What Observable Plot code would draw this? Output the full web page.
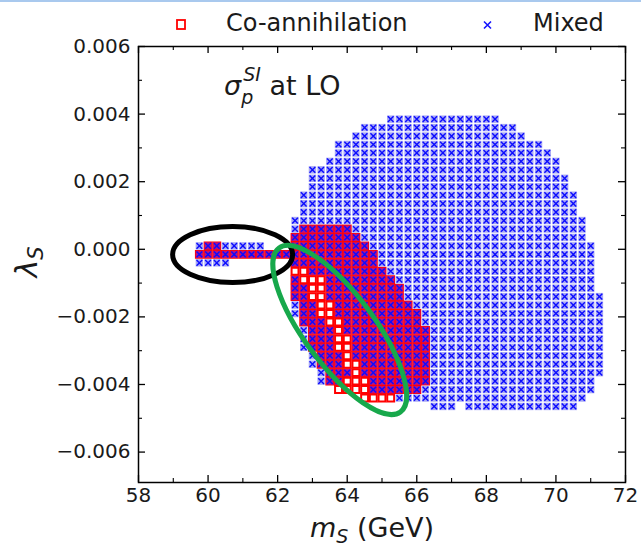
<!DOCTYPE html>
<html><head><meta charset="utf-8">
<script src="https://cdn.jsdelivr.net/npm/d3@7"></script>
<script src="https://cdn.jsdelivr.net/npm/@observablehq/plot@0.6"></script>
<style>
html,body{margin:0;padding:0;background:#fff;}
body{width:641px;height:546px;position:relative;overflow:hidden;font-family:"DejaVu Sans",sans-serif;}
#topline{position:absolute;left:0;top:0;width:641px;height:2px;background:#a9c9ee;z-index:3;}
#legend{position:absolute;left:0;top:0;width:641px;height:36px;z-index:2;}
#chart{position:absolute;left:0;top:20px;}
#legend svg,#chart svg{display:block;overflow:visible;}
</style></head><body>
<div id="topline"></div>
<div id="legend"></div>
<div id="chart"></div>
<script>
// ---- data ----
const massStep = 0.25; // GeV, scan step in m_S
const lambdaS = [0.00385, 0.0036, 0.00335, 0.0031, 0.00285, 0.0026, 0.00235, 0.0021, 0.00185, 0.0016,
  0.00135, 0.0011, 0.00085, 0.0006, 0.00035, 0.0001, -0.00015, -0.0004, -0.00065, -0.0009,
  -0.00115, -0.0014, -0.00165, -0.0019, -0.00215, -0.0024, -0.00265, -0.0029, -0.00315, -0.0034,
  -0.00365, -0.0039, -0.00415, -0.0044, -0.00465];
// m_S runs [from, to] (GeV) of "Mixed" scan points, one entry per lambdaS row
const mixedRuns = [
  [[65.25, 68.25]], [[64.5, 68.75]], [[64.25, 69.0]], [[63.75, 69.5]], [[63.75, 69.75]],
  [[63.5, 70.0]], [[63.0, 70.0]], [[63.0, 70.25]], [[63.0, 70.25]], [[62.75, 70.5]],
  [[62.75, 70.5]], [[62.75, 70.5]], [[62.5, 70.75]], [[62.5, 70.75]], [[62.5, 70.75]],
  [[59.75, 61.5], [62.5, 71.0]], [[59.75, 71.0]], [[59.75, 60.5], [62.5, 71.0]], [[63.0, 71.0]], [[62.5, 62.5], [63.5, 71.0]],
  [[62.5, 62.75], [63.5, 71.0]], [[62.5, 62.75], [63.5, 71.25]], [[62.5, 63.0], [63.75, 71.25]], [[62.5, 63.0], [63.75, 71.25]], [[62.75, 63.25], [64.0, 71.25]],
  [[62.75, 63.5], [64.0, 71.25]], [[62.75, 63.5], [64.25, 71.25]], [[62.75, 63.5], [64.25, 71.25]], [[63.0, 63.75], [64.25, 71.25]], [[63.0, 63.75], [64.5, 71.25]],
  [[63.25, 64.0], [64.5, 71.25]], [[63.25, 63.75], [64.75, 71.0]], [[64.75, 71.0]], [[65.5, 70.75]], [[66.5, 67.0], [67.5, 70.5]]
];
// m_S runs of "Co-annihilation" scan points, one entry per lambdaS row
const coannRuns = [
  [], [], [], [], [], [], [], [], [], [], [], [], [],
  [[62.75, 64.0]], [[62.5, 64.25]], [[60.0, 60.25], [62.5, 64.5]], [[59.75, 64.75]], [[62.5, 64.75]], [[62.5, 65.0]], [[62.5, 65.25]],
  [[62.5, 65.5]], [[62.5, 65.5]], [[62.75, 65.75]], [[62.75, 66.0]], [[62.75, 66.0]],
  [[63.0, 66.25]], [[63.0, 66.25]], [[63.0, 66.25]], [[63.25, 66.25]], [[63.25, 66.25]],
  [[63.5, 66.25]], [[63.5, 66.25]], [[63.75, 66.0]], [[64.5, 65.25]], []
];
const xMajor = [58, 60, 62, 64, 66, 68, 70, 72];
const xMinor = [59, 61, 63, 65, 67, 69, 71];
const yMajor = [-0.006, -0.004, -0.002, 0, 0.002, 0.004, 0.006];
const yMinor = [-0.005, -0.003, -0.001, 0.001, 0.003, 0.005];
const seriesNames = ["Co-annihilation", "Mixed"];
// annotation ellipses: centre in data units
const ellipses = [
  {m: 60.72, lambda: -0.00017, color: "#000000"},
  {m: 63.80, lambda: -0.0024, color: "#17a84b"}
];
const ellipseShape = [{rx: 60, ry: 28, angle: 0}, {rx: 102, ry: 35, angle: 53.5}];

// ---- expand runs into scan points ----
function expand(runs) {
  const pts = [];
  runs.forEach((row, i) => row.forEach(([a, b]) => {
    const n = Math.round((b - a) / massStep);
    for (let t = 0; t <= n; t++) pts.push({m: +(a + t * massStep).toFixed(3), l: lambdaS[i]});
  }));
  return pts;
}
const mixed = expand(mixedRuns);
const coann = expand(coannRuns);
const key = d => d.m.toFixed(2) + "|" + d.l;
const mixedSet = new Set(mixed.map(key));
const coannSet = new Set(coann.map(key));
const coBoth = coann.filter(d => mixedSet.has(key(d)));
const mixOnly = mixed.filter(d => !coannSet.has(key(d)));

// ---- layout ----
const W = 641, H = 526, mL = 138, mR = 16, mT = 26, mB = 64;
const iW = W - mL - mR, iH = H - mT - mB;

function ellipseMark(i) {
  return function(...args) {
    const s = args.find(a => a && typeof a.x === "function" && typeof a.y === "function");
    const g = document.createElementNS("http://www.w3.org/2000/svg", "g");
    if (!s) return g;
    const e = ellipses[i], sh = ellipseShape[i];
    const el = document.createElementNS("http://www.w3.org/2000/svg", "ellipse");
    const cx = s.x(e.m), cy = s.y(e.lambda);
    el.setAttribute("cx", cx); el.setAttribute("cy", cy);
    el.setAttribute("rx", sh.rx); el.setAttribute("ry", sh.ry);
    el.setAttribute("transform", `rotate(${sh.angle} ${cx} ${cy})`);
    el.setAttribute("fill", "none"); el.setAttribute("stroke", e.color);
    el.setAttribute("stroke-width", 5);
    g.appendChild(el);
    return g;
  };
}

const fmtY = d => (Math.abs(d) < 1e-12 ? "0.000" : (d < 0 ? "\u2212" : "") + Math.abs(d).toFixed(3));

const svg = Plot.plot({
  width: W, height: H, marginLeft: mL, marginRight: mR, marginTop: mT, marginBottom: mB,
  style: {fontFamily: "DejaVu Sans", fontSize: "20px", color: "#1a1a1a", background: "white", overflow: "visible"},
  x: {domain: [58, 72], ticks: xMajor, tickSize: 0, tickPadding: 5, label: null, tickFormat: d => String(d)},
  y: {domain: [-0.0069, 0.006], ticks: yMajor, tickSize: 0, tickPadding: 8, label: null, tickFormat: fmtY},
  marks: [
    Plot.dot(coann, {x: "m", y: "l", symbol: "square", r: 3.9, stroke: "#ff0000", strokeWidth: 2, fill: "#ffffff"}),
    Plot.dot(coBoth, {x: "m", y: "l", symbol: "square", r: 3.3, stroke: "#c0107c", strokeWidth: 1.4, fill: "#b0148e"}),
    Plot.dot(mixOnly, {x: "m", y: "l", symbol: "square", r: 4.2, fill: "#a9a9f5", stroke: "none"}),
    Plot.dot(mixed, {x: "m", y: "l", symbol: "times", r: 2.7, stroke: "#0c0cff", strokeWidth: 1.4}),
    ellipseMark(0),
    ellipseMark(1),
    Plot.tickX(xMajor, {x: d => d, insetTop: iH - 7, stroke: "black", strokeWidth: 1.3}),
    Plot.tickX(xMinor, {x: d => d, insetTop: iH - 4, stroke: "black", strokeWidth: 1.1}),
    Plot.tickX(xMajor, {x: d => d, insetBottom: iH - 7, stroke: "black", strokeWidth: 1.3}),
    Plot.tickX(xMinor, {x: d => d, insetBottom: iH - 4, stroke: "black", strokeWidth: 1.1}),
    Plot.tickY(yMajor, {y: d => d, insetRight: iW - 7, stroke: "black", strokeWidth: 1.3}),
    Plot.tickY(yMinor, {y: d => d, insetRight: iW - 4, stroke: "black", strokeWidth: 1.1}),
    Plot.tickY(yMajor, {y: d => d, insetLeft: iW - 7, stroke: "black", strokeWidth: 1.3}),
    Plot.tickY(yMinor, {y: d => d, insetLeft: iW - 4, stroke: "black", strokeWidth: 1.1}),
    Plot.frame({stroke: "black", strokeWidth: 1.5})
  ]
});
document.getElementById("chart").appendChild(svg);

// ---- text labels ----
const S = d3.select(svg);
const ann = S.append("text").attr("x", 224).attr("y", 75).attr("text-anchor", "start").attr("font-size", 27)
  .attr("font-family", "DejaVu Sans").attr("fill", "#1a1a1a");
ann.append("tspan").attr("font-style", "italic").text("σ");
ann.append("tspan").attr("font-style", "italic").attr("font-size", 19).attr("dy", 9).text("p");
ann.append("tspan").attr("font-style", "italic").attr("font-size", 19).attr("dx", -10).attr("dy", -23).text("SI");
ann.append("tspan").attr("dy", 14).text(" at LO");

const xl = S.append("text").attr("x", 372).attr("y", 517).attr("text-anchor", "middle")
  .attr("font-size", 27).attr("font-family", "DejaVu Sans").attr("fill", "#1a1a1a");
xl.append("tspan").attr("font-style", "italic").text("m");
xl.append("tspan").attr("font-style", "italic").attr("font-size", 19).attr("dy", 6).text("S");
xl.append("tspan").attr("dy", -6).text(" (GeV)");

const yl = S.append("text").attr("transform", "translate(37,242) rotate(-90)").attr("text-anchor", "middle")
  .attr("font-size", 30).attr("font-family", "DejaVu Sans").attr("fill", "#1a1a1a");
yl.append("tspan").attr("font-style", "italic").text("λ");
yl.append("tspan").attr("font-style", "italic").attr("font-size", 21).attr("dy", 6).text("S");

// ---- legend ----
const L = d3.select("#legend").append("svg").attr("width", 641).attr("height", 36);
L.append("rect").attr("x", 177).attr("y", 20).attr("width", 8).attr("height", 9)
  .attr("fill", "white").attr("stroke", "#ff0000").attr("stroke-width", 1.8);
L.append("text").attr("x", 226).attr("y", 31).attr("font-size", 24).attr("font-family", "DejaVu Sans")
  .attr("fill", "#1a1a1a").text(seriesNames[0]);
L.append("path").attr("d", "M484,21.5L491,28.5M491,21.5L484,28.5").attr("stroke", "#1414ff").attr("stroke-width", 1.6);
L.append("text").attr("x", 533).attr("y", 31).attr("font-size", 24).attr("font-family", "DejaVu Sans")
  .attr("fill", "#1a1a1a").text(seriesNames[1]);
</script></body></html>
